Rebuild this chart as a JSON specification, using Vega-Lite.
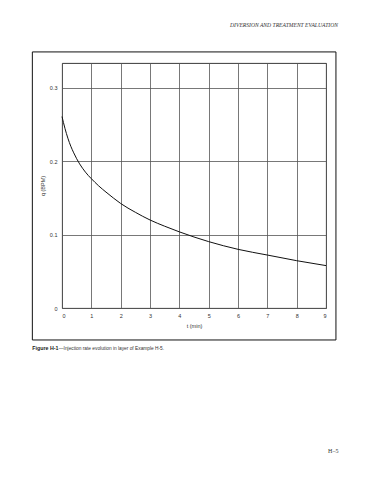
{
  "$schema": "https://vega.github.io/schema/vega-lite/v6.json",
  "width": 264,
  "height": 245,
  "autosize": "none",
  "padding": {"left": 62, "top": 63, "right": 44, "bottom": 172},
  "background": "white",
  "config": {
    "view": {"stroke": "#222", "strokeWidth": 0.9},
    "axis": {
      "domain": false,
      "ticks": false,
      "grid": true,
      "gridColor": "#555",
      "gridWidth": 0.8,
      "labelOverlap": false,
      "labelFont": "Liberation Sans",
      "labelFontSize": 5.5,
      "labelColor": "#333",
      "titleFont": "Liberation Sans",
      "titleFontSize": 5.5,
      "titleFontWeight": "normal",
      "titleColor": "#333"
    }
  },
  "datasets": {
    "curve": [
      {"t": 0, "q": 0.261},
      {"t": 0.1, "q": 0.245},
      {"t": 0.2, "q": 0.2315},
      {"t": 0.3, "q": 0.2205},
      {"t": 0.4, "q": 0.2115},
      {"t": 0.5, "q": 0.2035},
      {"t": 0.6, "q": 0.1965},
      {"t": 0.7, "q": 0.1905},
      {"t": 0.8, "q": 0.1852},
      {"t": 0.9, "q": 0.1805},
      {"t": 1.0, "q": 0.1763},
      {"t": 1.25, "q": 0.1665},
      {"t": 1.5, "q": 0.158},
      {"t": 1.75, "q": 0.150},
      {"t": 2.0, "q": 0.1425},
      {"t": 2.5, "q": 0.1305},
      {"t": 3.0, "q": 0.1200},
      {"t": 3.5, "q": 0.1115},
      {"t": 4.0, "q": 0.1038},
      {"t": 4.5, "q": 0.0968},
      {"t": 5.0, "q": 0.0905},
      {"t": 6.0, "q": 0.0800},
      {"t": 7.0, "q": 0.0722},
      {"t": 8.0, "q": 0.0645},
      {"t": 9.0, "q": 0.0578}
    ],
    "frame": [
      {"t1": -1.011, "t2": 9.339, "q1": -0.0436, "q2": 0.3491}
    ],
    "notes": [
      {"t": 9.408, "q": 0.3832, "label": "DIVERSION AND TREATMENT EVALUATION", "kind": "header"},
      {"t": -1.011, "q": -0.0573, "label": "Figure H-1", "kind": "figbold"},
      {"t": 9.07, "q": -0.1977, "label": "H–5", "kind": "footer"}
    ],
    "caption": [
      {"t": -0.11, "q": -0.0573, "label": "—Injection rate evolution in layer of Example H-5."}
    ]
  },
  "layer": [
    {
      "data": {"name": "curve"},
      "mark": {"type": "line", "color": "#111", "strokeWidth": 1, "interpolate": "monotone"},
      "encoding": {
        "x": {
          "field": "t", "type": "quantitative",
          "scale": {"domain": [0, 9], "nice": false, "zero": false},
          "axis": {"values": [0,1,2,3,4,5,6,7,8,9], "tickCount": 10, "title": "t (min)", "labelPadding": 5, "titlePadding": 5}
        },
        "y": {
          "field": "q", "type": "quantitative",
          "scale": {"domain": [0, 0.334], "nice": false},
          "axis": {"values": [0, 0.1, 0.2, 0.3], "title": "q (BPM)", "labelPadding": 5, "titlePadding": 4, "format": "~g"}
        }
      }
    },
    {
      "data": {"name": "frame"},
      "mark": {"type": "rect", "fill": null, "fillOpacity": 0, "stroke": "#111", "strokeWidth": 1, "clip": false},
      "encoding": {
        "x": {"field": "t1", "type": "quantitative"},
        "x2": {"field": "t2"},
        "y": {"field": "q1", "type": "quantitative"},
        "y2": {"field": "q2"}
      }
    },
    {
      "data": {"name": "notes"},
      "transform": [{"filter": "datum.kind === 'header'"}],
      "mark": {"type": "text", "align": "right", "baseline": "alphabetic", "font": "Liberation Serif", "fontStyle": "italic", "fontSize": 5.6, "color": "#333"},
      "encoding": {
        "x": {"field": "t", "type": "quantitative"},
        "y": {"field": "q", "type": "quantitative"},
        "text": {"field": "label"}
      }
    },
    {
      "data": {"name": "notes"},
      "transform": [{"filter": "datum.kind === 'figbold'"}],
      "mark": {"type": "text", "align": "left", "baseline": "alphabetic", "font": "Liberation Sans", "fontWeight": "bold", "fontSize": 5.3, "color": "#222"},
      "encoding": {
        "x": {"field": "t", "type": "quantitative"},
        "y": {"field": "q", "type": "quantitative"},
        "text": {"field": "label"}
      }
    },
    {
      "data": {"name": "caption"},
      "mark": {"type": "text", "align": "left", "baseline": "alphabetic", "font": "Liberation Sans", "fontSize": 4.8, "color": "#333"},
      "encoding": {
        "x": {"field": "t", "type": "quantitative"},
        "y": {"field": "q", "type": "quantitative"},
        "text": {"field": "label"}
      }
    },
    {
      "data": {"name": "notes"},
      "transform": [{"filter": "datum.kind === 'footer'"}],
      "mark": {"type": "text", "align": "left", "baseline": "alphabetic", "font": "Liberation Serif", "fontSize": 6, "color": "#333"},
      "encoding": {
        "x": {"field": "t", "type": "quantitative"},
        "y": {"field": "q", "type": "quantitative"},
        "text": {"field": "label"}
      }
    }
  ]
}
